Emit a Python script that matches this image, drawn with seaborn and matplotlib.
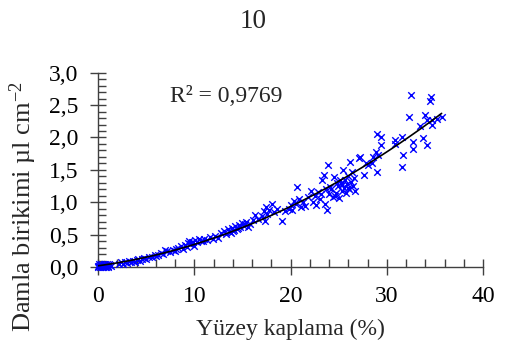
import matplotlib
matplotlib.use("Agg")
import matplotlib.pyplot as plt
import seaborn as sns
import pandas as pd
import numpy as np
from matplotlib.ticker import MultipleLocator, FixedLocator, FixedFormatter

# ---- data ----
coverage = [
    0.0, 0.1, 0.2, 0.3, 0.4, 0.5, 0.6, 0.7, 0.8, 0.9, 1.0, 1.1, 1.2, 0.15, 0.35, 0.55, 0.75, 0.95, 0.25, 0.65, 1.3, 0.05, 0.45, 0.85, 1.05,
    2.2, 2.4, 2.6, 2.8, 3.0, 3.2, 3.4, 3.6, 3.8, 4.0, 4.2, 4.4, 4.6, 4.8, 5.0, 5.3, 5.6, 5.9, 6.2, 6.5, 6.8, 7.0, 7.2, 7.5, 7.8,
    8.0, 8.3, 8.6, 8.8, 9.0, 9.2, 9.4, 9.5, 9.6, 9.8, 10.0, 10.1, 10.3, 10.5, 10.7, 11.0, 11.3, 11.6, 11.9, 12.2, 12.5, 12.8,
    13.1, 13.3, 13.5, 13.7, 13.9, 14.1, 14.2, 14.4, 14.6, 14.8, 15.0, 15.2, 15.4, 15.6, 15.8, 16.1, 16.3, 16.6, 17.0, 17.2,
    17.4, 17.5, 17.6, 17.8, 18.1, 18.3, 18.6, 19.1, 19.4, 19.8, 20.0, 20.2, 20.4, 20.6, 20.7, 20.9, 21.1, 21.3, 21.5, 21.8,
    22.1, 22.3, 22.5, 22.7, 22.9, 23.1, 23.3, 23.5, 23.6, 23.8, 23.9, 24.0, 24.2, 24.4, 24.5, 24.7, 24.9, 25.0, 25.2, 25.3,
    25.5, 25.6, 25.7, 25.8, 25.9, 26.0, 26.1, 26.2, 26.3, 26.4, 26.5, 26.6, 26.7, 27.1, 27.2, 27.6, 27.8, 28.1, 28.5, 28.6,
    28.9, 29.0, 29.0, 29.1, 29.4, 29.4, 30.9, 30.9, 31.6, 31.6, 31.7, 32.3, 32.5, 32.7, 32.7, 33.5, 33.8, 34.0, 34.2, 34.2,
    34.5, 34.6, 34.7, 34.7, 35.2, 35.7,
    14.0, 14.5, 15.3, 13.8, 24.1, 24.8, 25.4, 26.0, 25.1, 24.6, 23.7, 23.2, 10.9, 9.9, 8.1, 6.0,
]
deposit = [
    0.00, 0.01, 0.00, 0.02, 0.01, 0.03, 0.02, 0.00, 0.03, 0.01, 0.02, 0.04, 0.03, 0.04, 0.05, 0.00, 0.04, 0.05, 0.03, 0.05, 0.02, 0.02, 0.00, 0.00, 0.00,
    0.05, 0.07, 0.04, 0.08, 0.06, 0.09, 0.07, 0.10, 0.08, 0.11, 0.12, 0.10, 0.13, 0.14, 0.12, 0.16, 0.15, 0.19, 0.18, 0.22, 0.20, 0.26, 0.24, 0.23, 0.27,
    0.25, 0.30, 0.32, 0.28, 0.34, 0.31, 0.37, 0.40, 0.35, 0.39, 0.33, 0.42, 0.38, 0.44, 0.40, 0.43, 0.41, 0.46, 0.44, 0.48, 0.45, 0.52,
    0.55, 0.51, 0.58, 0.54, 0.60, 0.57, 0.63, 0.59, 0.65, 0.61, 0.68, 0.64, 0.70, 0.62, 0.66, 0.72, 0.80, 0.74, 0.78, 0.86,
    0.71, 0.93, 0.82, 0.88, 0.97, 0.85, 0.90, 0.71, 0.86, 0.90, 0.95, 0.88, 1.02, 0.98, 1.23, 1.05, 0.92, 1.00, 0.94, 1.08,
    1.18, 1.00, 1.10, 0.95, 1.16, 1.05, 1.34, 1.42, 0.98, 0.88, 1.57, 1.12, 1.20, 1.08, 1.39, 1.15, 1.25, 1.06, 1.30, 1.18,
    1.50, 1.22, 1.35, 1.14, 1.28, 1.40, 1.20, 1.62, 1.32, 1.47, 1.25, 1.38, 1.17, 1.68, 1.70, 1.42, 1.60, 1.57, 1.60, 1.70,
    1.77, 2.06, 1.47, 1.73, 2.01, 1.88, 1.96, 1.90, 2.01, 1.55, 1.73, 2.32, 2.66, 1.93, 1.82, 2.17, 1.99, 2.35, 2.27, 1.88,
    2.56, 2.62, 2.27, 2.19, 2.29, 2.32,
    0.56, 0.60, 0.66, 0.53, 1.24, 1.30, 1.26, 1.22, 1.34, 1.10, 1.20, 1.13, 0.40, 0.38, 0.28, 0.17,
]
x_ticks = [0, 10, 20, 30, 40]
x_tick_labels = ["0", "10", "20", "30", "40"]
y_ticks = [0.0, 0.5, 1.0, 1.5, 2.0, 2.5, 3.0]
y_tick_labels = ["0,0", "0,5", "1,0", "1,5", "2,0", "2,5", "3,0"]
r2_text = "R² = 0,9769"
title_text = "10"
x_label = "Yüzey kaplama (%)"
y_label = r"Damla birikimi µl cm$^{\mathregular{-2}}$"

df = pd.DataFrame({"coverage": coverage, "deposit": deposit})

sns.set_style("white")
plt.rcParams["font.family"] = ["Liberation Serif", "DejaVu Serif"]
plt.rcParams["mathtext.fontset"] = "custom"
plt.rcParams["mathtext.rm"] = "Liberation Serif"
plt.rcParams["mathtext.it"] = "Liberation Serif:italic"

W, H = 507, 351
fig = plt.figure(figsize=(W / 100, H / 100), dpi=100)
fig.patch.set_facecolor("white")
ax = fig.add_axes([98 / W, 1 - 267 / H, 385 / W, (267 - 72.7) / H])
ax.set_facecolor("white")

sns.scatterplot(data=df, x="coverage", y="deposit", ax=ax, marker="x",
                color="#0000FF", s=22, linewidth=1.0, clip_on=False, zorder=3)
sns.regplot(data=df, x="coverage", y="deposit", ax=ax, order=2, ci=None,
            scatter=False, line_kws={"color": "black", "linewidth": 1.2, "zorder": 4})

ax.set_xlim(0, 40)
ax.set_ylim(0, 3)
ax.xaxis.set_major_locator(FixedLocator(x_ticks))
ax.xaxis.set_major_formatter(FixedFormatter(x_tick_labels))
ax.yaxis.set_major_locator(FixedLocator(y_ticks))
ax.yaxis.set_major_formatter(FixedFormatter(y_tick_labels))
ax.xaxis.set_minor_locator(MultipleLocator(2))
ax.yaxis.set_minor_locator(MultipleLocator(0.1))

spine_c = "#404040"
for s in ["top", "right"]:
    ax.spines[s].set_visible(False)
for s in ["left", "bottom"]:
    ax.spines[s].set_color(spine_c)
    ax.spines[s].set_linewidth(1.0)

ax.tick_params(which="major", direction="inout", length=12, width=1.0, color=spine_c,
               labelsize=17, labelcolor="black")
ax.tick_params(axis="x", which="major", pad=8)
ax.tick_params(axis="y", which="major", pad=8)
ax.tick_params(which="minor", direction="in", length=6, width=1.0, color=spine_c)
ax.tick_params(left=True, bottom=True, which="both")

ax.set_xlabel(x_label, fontsize=17, labelpad=8)
ax.set_ylabel(y_label, fontsize=19, labelpad=6)
ax.yaxis.set_label_coords((39 - 98) / 385, (267 - 207) / 194.3)
ax.grid(False)

fig.text(170 / W, 1 - 97 / H, r2_text, fontsize=17, ha="left", va="center")
fig.text(253 / W, 1 - 22 / H, title_text, fontsize=19.5, ha="center", va="center")

fig.savefig("out.png", dpi=100, facecolor="white")
